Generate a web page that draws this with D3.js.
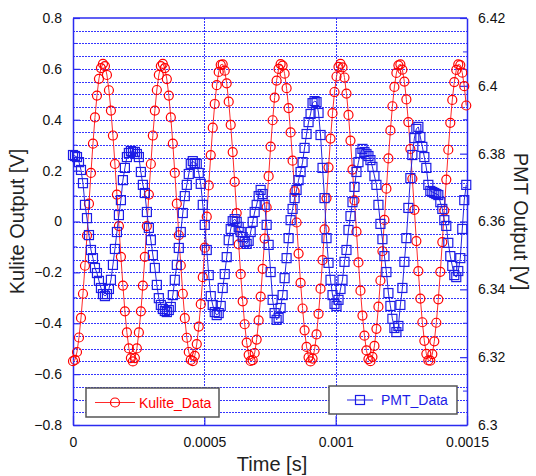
<!DOCTYPE html>
<html lang="en">
<head>
<meta charset="UTF-8">
<title>Kulite / PMT output</title>
<script src="https://cdn.jsdelivr.net/npm/d3@7"></script>
<style>
    body { margin: 0; background: #fff; }
    svg { display: block; font-family: "Liberation Sans", Arial, sans-serif; }
</style>
</head>
<body>
<div id="chart"></div>
<script>
    // sampled signals, one value per sample
    const sampleStep = 7.6e-6; // s between samples

    const kulite = [
        -0.549, -0.544, -0.513, -0.456, -0.379, -0.284, -0.174, -0.055, 0.070, 0.191,
        0.306, 0.409, 0.495, 0.561, 0.603, 0.620, 0.611, 0.576, 0.516, 0.436,
        0.338, 0.226, 0.106, -0.018, -0.139, -0.252, -0.353, -0.436, -0.499, -0.537,
        -0.550, -0.537, -0.499, -0.436, -0.353, -0.252, -0.139, -0.018, 0.106, 0.226,
        0.338, 0.436, 0.517, 0.576, 0.611, 0.620, 0.603, 0.560, 0.495, 0.409,
        0.306, 0.191, 0.070, -0.054, -0.173, -0.284, -0.380, -0.457, -0.513, -0.544,
        -0.549, -0.528, -0.482, -0.413, -0.325, -0.219, -0.103, 0.019, 0.142, 0.261,
        0.369, 0.462, 0.536, 0.588, 0.616, 0.618, 0.593, 0.543, 0.471, 0.380,
        0.273, 0.156, 0.033, -0.090, -0.207, -0.314, -0.404, -0.476, -0.524, -0.548,
        -0.545, -0.517, -0.464, -0.389, -0.295, -0.186, -0.067, 0.056, 0.178, 0.294,
        0.398, 0.487, 0.554, 0.600, 0.619, 0.613, 0.581, 0.524, 0.446, 0.350,
        0.239, 0.119, -0.004, -0.126, -0.241, -0.342, -0.428, -0.493, -0.534, -0.550,
        -0.539, -0.504, -0.444, -0.363, -0.264, -0.152, -0.031, 0.092, 0.213, 0.326,
        0.426, 0.509, 0.570, 0.608, 0.620, 0.606, 0.566, 0.503, 0.419, 0.318,
        0.204, 0.083, -0.040, -0.161, -0.272, -0.370, -0.449, -0.507, -0.541, -0.549,
        -0.532, -0.489, -0.422, -0.335, -0.232, -0.117, 0.006, 0.129, 0.248, 0.358,
        0.453, 0.529, 0.584, 0.614, 0.618, 0.597, 0.550, 0.480, 0.391, 0.285,
        0.168, 0.046, -0.077, -0.195, -0.303, -0.396, -0.469, -0.520, -0.546, -0.547,
        -0.521, -0.471, -0.398, -0.306, -0.198, -0.081, 0.043, 0.165, 0.282, 0.388,
        0.478, 0.548, 0.596, 0.618, 0.615, 0.585, 0.532, 0.456
    ];

    const pmt = [
        6.3796, 6.3793, 6.3790, 6.3775, 6.3752, 6.3713, 6.3649, 6.3610, 6.3560, 6.3516,
        6.3492, 6.3463, 6.3448, 6.3425, 6.3404, 6.3386, 6.3380, 6.3386, 6.3401, 6.3428,
        6.3472, 6.3519, 6.3569, 6.3619, 6.3663, 6.3722, 6.3758, 6.3790, 6.3802, 6.3808,
        6.3805, 6.3805, 6.3799, 6.3790, 6.3746, 6.3708, 6.3684, 6.3628, 6.3581, 6.3545,
        6.3501, 6.3463, 6.3413, 6.3374, 6.3354, 6.3342, 6.3336, 6.3333, 6.3339, 6.3348,
        6.3383, 6.3428, 6.3472, 6.3522, 6.3569, 6.3625, 6.3675, 6.3708, 6.3740, 6.3770,
        6.3778, 6.3772, 6.3770, 6.3743, 6.3711, 6.3649, 6.3590, 6.3516, 6.3442, 6.3380,
        6.3354, 6.3333, 6.3324, 6.3330, 6.3351, 6.3404, 6.3445, 6.3495, 6.3545, 6.3578,
        6.3601, 6.3607, 6.3599, 6.3584, 6.3569, 6.3554, 6.3540, 6.3534, 6.3543, 6.3569,
        6.3599, 6.3628, 6.3649, 6.3675, 6.3693, 6.3681, 6.3649, 6.3590, 6.3531, 6.3451,
        6.3369, 6.3330, 6.3310, 6.3316, 6.3345, 6.3383, 6.3433, 6.3492, 6.3551, 6.3604,
        6.3637, 6.3669, 6.3693, 6.3722, 6.3746, 6.3775, 6.3817, 6.3858, 6.3893, 6.3917,
        6.3949, 6.3955, 6.3952, 6.3920, 6.3855, 6.3758, 6.3669, 6.3551, 6.3478, 6.3428,
        6.3383, 6.3357, 6.3351, 6.3369, 6.3401, 6.3428, 6.3481, 6.3516, 6.3575, 6.3616,
        6.3657, 6.3702, 6.3746, 6.3775, 6.3802, 6.3814, 6.3805, 6.3799, 6.3793, 6.3781,
        6.3761, 6.3734, 6.3708, 6.3649, 6.3593, 6.3548, 6.3498, 6.3451, 6.3389, 6.3351,
        6.3313, 6.3286, 6.3274, 6.3292, 6.3354, 6.3404, 6.3481, 6.3551, 6.3640, 6.3728,
        6.3796, 6.3846, 6.3873, 6.3879, 6.3849, 6.3820, 6.3790, 6.3758, 6.3708, 6.3690,
        6.3687, 6.3684, 6.3681, 6.3678, 6.3657, 6.3637, 6.3604, 6.3587, 6.3537, 6.3498,
        6.3469, 6.3442, 6.3436, 6.3454, 6.3492, 6.3578, 6.3663, 6.3708
    ];

    const timeTicks = [0, 0.0005, 0.001, 0.0015];
    const leftTicks = [-0.8, -0.6, -0.4, -0.2, 0, 0.2, 0.4, 0.6, 0.8];
    const rightTicks = [6.3, 6.32, 6.34, 6.36, 6.38, 6.4, 6.42];

    const time = kulite.map((d, i) => i * sampleStep);

    const width = 536, height = 476;
    const margin = {top: 18, right: 69, bottom: 51, left: 73};
    const axisBlue = "#2b2bf0";
    const gridBlue = "#3434ff";

    const x = d3.scaleLinear().domain([0, 0.0015]).range([margin.left, width - margin.right]);
    const yL = d3.scaleLinear().domain([-0.8, 0.8]).range([height - margin.bottom, margin.top]);
    const yR = d3.scaleLinear().domain([6.3, 6.42]).range([height - margin.bottom, margin.top]);

    const svg = d3.select("#chart").append("svg")
        .attr("width", width)
        .attr("height", height)
        .attr("viewBox", [0, 0, width, height]);

    svg.append("rect").attr("width", width).attr("height", height).attr("fill", "#fff");

    // dotted grid: every 0.05 on the left scale, plus the inner time ticks
    const gridVals = d3.range(-15, 16).map(k => k * 0.05);
    svg.append("g")
        .attr("shape-rendering", "crispEdges")
        .selectAll("line")
        .data(gridVals)
        .join("line")
        .attr("x1", x(0)).attr("x2", x(0.0015))
        .attr("y1", d => Math.round(yL(d)) + 0.5).attr("y2", d => Math.round(yL(d)) + 0.5)
        .attr("stroke", gridBlue)
        .attr("stroke-width", 1)
        .attr("stroke-dasharray", "2,1");

    svg.append("g")
        .attr("shape-rendering", "crispEdges")
        .selectAll("line")
        .data(timeTicks.slice(1, -1))
        .join("line")
        .attr("x1", d => Math.round(x(d)) + 0.5).attr("x2", d => Math.round(x(d)) + 0.5)
        .attr("y1", yL(0.8)).attr("y2", yL(-0.8))
        .attr("stroke", gridBlue)
        .attr("stroke-width", 1)
        .attr("stroke-dasharray", "2,1");

    // axes
    const fmt = d3.format("~g");

    function styleAxis(g) {
        g.selectAll(".domain").attr("stroke", axisBlue).attr("stroke-width", 1.5);
        g.selectAll(".tick line").attr("stroke", axisBlue).attr("stroke-width", 1.2);
        g.selectAll(".tick text").attr("fill", "#111").attr("font-size", 14);
    }

    svg.append("g")
        .attr("transform", `translate(${x(0)},0)`)
        .call(d3.axisLeft(yL).tickValues(leftTicks).tickFormat(fmt).tickSize(-7).tickSizeOuter(0).tickPadding(11))
        .call(styleAxis);

    svg.append("g")
        .attr("transform", `translate(${x(0.0015)},0)`)
        .call(d3.axisRight(yR).tickValues(rightTicks).tickFormat(fmt).tickSize(-7).tickSizeOuter(0).tickPadding(11))
        .call(styleAxis);

    svg.append("g")
        .attr("transform", `translate(0,${yL(-0.8)})`)
        .call(d3.axisBottom(x).tickValues(timeTicks).tickFormat(fmt).tickSize(-9).tickSizeOuter(0).tickPadding(12))
        .call(styleAxis);

    svg.append("line")
        .attr("x1", x(0)).attr("x2", x(0.0015))
        .attr("y1", yL(0.8)).attr("y2", yL(0.8))
        .attr("stroke", axisBlue).attr("stroke-width", 1.5);

    // minor ticks
    svg.append("g")
        .selectAll("line")
        .data(d3.range(-7, 8, 2).map(k => k * 0.1))
        .join("line")
        .attr("x1", x(0)).attr("x2", x(0) + 4)
        .attr("y1", d => yL(d)).attr("y2", d => yL(d))
        .attr("stroke", axisBlue);

    svg.append("g")
        .selectAll("line")
        .data(d3.range(0, 6).map(k => 6.31 + k * 0.02))
        .join("line")
        .attr("x1", x(0.0015) - 4).attr("x2", x(0.0015))
        .attr("y1", d => yR(d)).attr("y2", d => yR(d))
        .attr("stroke", axisBlue);

    // Kulite series
    const kuliteLine = d3.line()
        .x((d, i) => x(time[i]))
        .y(d => yL(d));

    svg.append("path")
        .datum(kulite)
        .attr("d", kuliteLine)
        .attr("fill", "none")
        .attr("stroke", "#ff2a2a")
        .attr("stroke-width", 1);

    svg.append("g")
        .selectAll("circle")
        .data(kulite)
        .join("circle")
        .attr("cx", (d, i) => x(time[i]))
        .attr("cy", d => yL(d))
        .attr("r", 4.5)
        .attr("fill", "none")
        .attr("stroke", "#f00")
        .attr("stroke-width", 1.2);

    // PMT series
    const pmtLine = d3.line()
        .x((d, i) => x(time[i]))
        .y(d => yR(d));

    svg.append("path")
        .datum(pmt)
        .attr("d", pmtLine)
        .attr("fill", "none")
        .attr("stroke", "#2424e0")
        .attr("stroke-width", 1);

    const sq = 9;
    svg.append("g")
        .selectAll("rect")
        .data(pmt)
        .join("rect")
        .attr("x", (d, i) => x(time[i]) - sq / 2)
        .attr("y", d => yR(d) - sq / 2)
        .attr("width", sq)
        .attr("height", sq)
        .attr("fill", "none")
        .attr("stroke", "#1c1ce6")
        .attr("stroke-width", 1.2);

    // legends
    const legK = svg.append("g").attr("transform", "translate(86,388)");
    legK.append("rect").attr("width", 133).attr("height", 29)
        .attr("fill", "#fff").attr("stroke", "#555").attr("stroke-width", 1.5);
    legK.append("line").attr("x1", 9).attr("x2", 49).attr("y1", 14.5).attr("y2", 14.5)
        .attr("stroke", "#ff2a2a");
    legK.append("circle").attr("cx", 29).attr("cy", 14.5).attr("r", 4.5)
        .attr("fill", "none").attr("stroke", "#f00").attr("stroke-width", 1.2);
    legK.append("text").attr("x", 53).attr("y", 20).attr("font-size", 14)
        .attr("fill", "#f00").text("Kulite_Data");

    const legP = svg.append("g").attr("transform", "translate(329,386)");
    legP.append("rect").attr("width", 128).attr("height", 28)
        .attr("fill", "#fff").attr("stroke", "#555").attr("stroke-width", 1.5);
    legP.append("line").attr("x1", 18).attr("x2", 44).attr("y1", 14).attr("y2", 14)
        .attr("stroke", "#2424e0");
    legP.append("rect").attr("x", 26.5).attr("y", 9.5).attr("width", sq).attr("height", sq)
        .attr("fill", "none").attr("stroke", "#1c1ce6").attr("stroke-width", 1.2);
    legP.append("text").attr("x", 52).attr("y", 19).attr("font-size", 14)
        .attr("fill", "#1c1ce6").text("PMT_Data");

    // axis titles
    svg.append("text")
        .attr("transform", `translate(24,${yL(0)}) rotate(-90)`)
        .attr("text-anchor", "middle")
        .attr("font-size", 20)
        .attr("fill", "#222")
        .text("Kulite Output [V]");

    svg.append("text")
        .attr("transform", `translate(514,${yL(0)}) rotate(90)`)
        .attr("text-anchor", "middle")
        .attr("font-size", 20)
        .attr("fill", "#222")
        .text("PMT Output [V]");

    svg.append("text")
        .attr("x", 272)
        .attr("y", 471)
        .attr("text-anchor", "middle")
        .attr("font-size", 20)
        .attr("fill", "#222")
        .text("Time [s]");
</script>
</body>
</html>
